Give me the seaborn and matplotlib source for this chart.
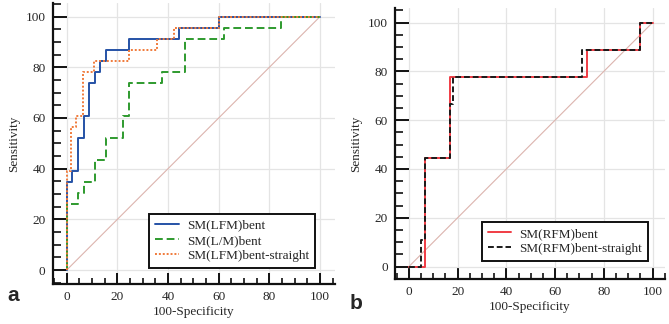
import matplotlib
matplotlib.use("Agg")
import matplotlib.pyplot as plt
import pandas as pd
import seaborn as sns
from matplotlib.ticker import MultipleLocator

# panel a: ROC corner points (100-specificity, sensitivity)
lfm_bent_x = [0, 0, 2.2, 4.4, 6.7, 8.9, 11.1, 13.3, 15.6, 24.4, 44.4, 60, 100]
lfm_bent_y = [0, 34.8, 39.1, 52.2, 60.9, 73.9, 78.3, 82.6, 87.0, 91.3, 95.7, 100, 100]

lm_bent_x = [0, 0, 4.4, 6.7, 11.1, 15.6, 22.2, 24.4, 37.8, 46.7, 62.2, 84.4, 100]
lm_bent_y = [0, 26.1, 30.4, 34.8, 43.5, 52.2, 60.9, 73.9, 78.3, 91.3, 95.7, 100, 100]

lfm_bs_x = [0, 0, 1.6, 3.5, 6.6, 10.9, 24.4, 35.6, 42.2, 60, 100]
lfm_bs_y = [0, 39.1, 56.5, 60.9, 78.3, 82.6, 87.0, 91.3, 95.7, 100, 100]

# panel b
rfm_bent_x = [0, 6.6, 16.8, 72.9, 94.8, 100]
rfm_bent_y = [0, 44.4, 77.8, 88.9, 100, 100]

rfm_bs_x = [0, 4.8, 6.6, 16.8, 18.2, 71.1, 94.8, 100]
rfm_bs_y = [0, 11.1, 44.4, 66.7, 77.8, 88.9, 100, 100]

diag = [0, 100]

sns.set_style("ticks")
plt.rcParams["font.family"] = ["Liberation Serif", "DejaVu Serif"]

fig = plt.figure(figsize=(6.69, 3.24), dpi=100)
ax_a = fig.add_axes([0.0785, 0.1235, 0.4222, 0.8675])
ax_b = fig.add_axes([0.5904, 0.138, 0.4036, 0.836])


def roc(ax, xs, ys, label, color, ls, lw=1.4):
    df = pd.DataFrame({"x": xs, "y": ys})
    sns.lineplot(data=df, x="x", y="y", ax=ax, estimator=None, sort=False,
                 drawstyle="steps-post", color=color, linestyle=ls,
                 linewidth=lw, label=label)


def style_axes(ax, xlim, ylim):
    ax.plot(diag, diag, color="#dcb4ae", linewidth=0.8, zorder=1)
    ax.set_xlim(*xlim)
    ax.set_ylim(*ylim)
    ax.xaxis.set_major_locator(MultipleLocator(20))
    ax.yaxis.set_major_locator(MultipleLocator(20))
    ax.xaxis.set_minor_locator(MultipleLocator(5))
    ax.yaxis.set_minor_locator(MultipleLocator(5))
    ax.grid(True, which="major", color="#e4e4e4", linewidth=0.9)
    ax.set_axisbelow(True)
    for s in ["top", "right"]:
        ax.spines[s].set_visible(False)
    for s in ["left", "bottom"]:
        ax.spines[s].set_linewidth(1.6)
        ax.spines[s].set_color("#111111")
    ax.tick_params(which="both", direction="in", color="#111111")
    ax.tick_params(axis="x", which="major", length=8, width=1.4, pad=5)
    ax.tick_params(axis="x", which="minor", length=4.5, width=1.2)
    ax.tick_params(axis="y", which="major", length=10, width=1.4, pad=5)
    ax.tick_params(axis="y", which="minor", length=6, width=1.2)
    ax.set_xlabel("100-Specificity", fontsize=9.5, labelpad=2)
    ax.set_ylabel("Sensitivity", fontsize=9.5, labelpad=4)
    for lab in ax.get_xticklabels() + ax.get_yticklabels():
        lab.set_fontsize(9.5)


roc(ax_a, lfm_bent_x, lfm_bent_y, "SM(LFM)bent", "#2552a6", "-")
roc(ax_a, lm_bent_x, lm_bent_y, "SM(L/M)bent", "#2e9a2e", (0, (4, 2)))
roc(ax_a, lfm_bs_x, lfm_bs_y, "SM(LFM)bent-straight", "#f07a3a", (0, (1, 1)))
style_axes(ax_a, (-5.6, 105.9), (-5.5, 105.4))

roc(ax_b, rfm_bent_x, rfm_bent_y, "SM(RFM)bent", "#f03c44", "-")
roc(ax_b, rfm_bs_x, rfm_bs_y, "SM(RFM)bent-straight", "#1a1a1a", (0, (3, 1.5)))
style_axes(ax_b, (-5.7, 105.1), (-5.2, 105.8))

for ax, anchor in [(ax_a, (0.929, 0.057)), (ax_b, (0.937, 0.0675))]:
    leg = ax.legend(loc="lower right", bbox_to_anchor=anchor, borderaxespad=0,
                    fontsize=9.5, frameon=True, fancybox=False, framealpha=1,
                    handlelength=1.8, borderpad=0.45, labelspacing=0.22,
                    handletextpad=0.6)
    leg.get_frame().set_edgecolor("#111111")
    leg.get_frame().set_linewidth(1.4)

fig.text(0.0105, 0.071, "a", fontsize=15, fontweight="bold", family="Liberation Sans")
fig.text(0.523, 0.046, "b", fontsize=15, fontweight="bold", family="Liberation Sans")

fig.savefig("out.png", dpi=100)
